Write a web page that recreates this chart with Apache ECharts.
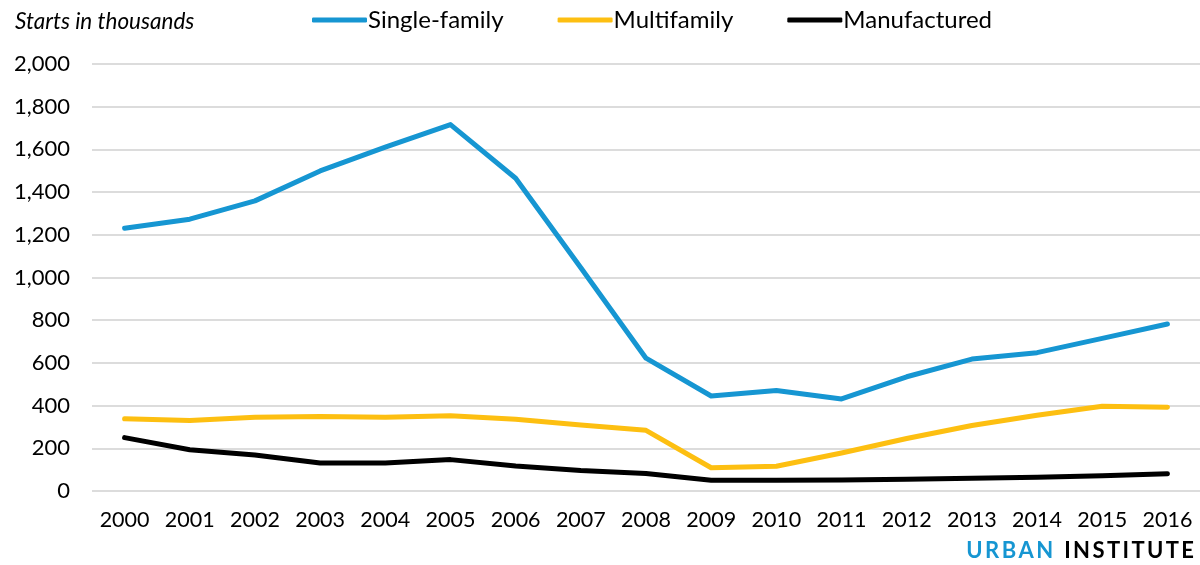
<!DOCTYPE html>
<html><head><meta charset="utf-8">
<script src="https://cdn.jsdelivr.net/npm/echarts@6/dist/echarts.min.js"></script>
<style>html,body{margin:0;padding:0;background:#fff}#c{width:1200px;height:565px}</style>
</head><body><div id="c"></div>
<script>
const years = ['2000','2001','2002','2003','2004','2005','2006','2007','2008','2009','2010','2011','2012','2013','2014','2015','2016'];
const singleFamily = [1231,1273,1359,1499,1611,1716,1465,1046,622,445,471,431,535,618,648,715,782];
const multifamily = [338,330,346,349,345,352,336,309,284,109,116,178,246,307,355,397,392];
const manufactured = [250,193,169,131,131,147,117,96,82,50,50,52,55,60,64,71,81];
const yTicks = [0,200,400,600,800,1000,1200,1400,1600,1800,2000];

const chart = echarts.init(document.getElementById('c'), null, {renderer:'canvas'});
const font = 'Lato, "Noto Sans", sans-serif';
function mk(name, data, color){
  return {name, type:'line', data, symbol:'none', smooth:false,
    lineStyle:{width:5, color, cap:'round', join:'round'}, itemStyle:{color}};
}
// spaced logo letters
const ctx = document.createElement('canvas').getContext('2d');
const logoFont = 'bold 22px ' + font;
ctx.font = logoFont;
const words = [{t:'URBAN', c:'#1696d2'}, {t:'INSTITUTE', c:'#000'}];
const spacing = 2.4, wordGap = 11, rightEdge = 1194;
let total = 0;
words.forEach((w,wi)=>{ for(const ch of w.t){ total += ctx.measureText(ch).width + spacing; } total -= spacing; if(wi<words.length-1) total += wordGap; });
let x = rightEdge - total;
const logo = [];
words.forEach((w,wi)=>{
  for(const ch of w.t){
    logo.push({type:'text', x:x, y:540, style:{text:ch, font:logoFont, fill:w.c}});
    x += ctx.measureText(ch).width + spacing;
  }
  x += wordGap - spacing;
});

chart.setOption({
  animation:false,
  textStyle:{fontFamily:font},
  grid:{left:92, right:-4, top:64, bottom:74, containLabel:false},
  legend:{top:3, left:307, icon:'roundRect', itemWidth:55, itemHeight:5, itemGap:54,
    textStyle:{fontSize:24, color:'#000', fontFamily:font, padding:[0,0,0,-4]},
    data:['Single-family','Multifamily','Manufactured']},
  xAxis:{type:'category', data:years, boundaryGap:true,
    axisLine:{show:false}, axisTick:{show:false},
    axisLabel:{interval:0, fontSize:21.5, color:'#000', margin:18, fontFamily:font}},
  yAxis:{type:'value', min:yTicks[0], max:yTicks[yTicks.length-1], interval:200,
    axisLine:{show:false}, axisTick:{show:false},
    splitLine:{lineStyle:{color:'#dcdcdc', width:2}},
    axisLabel:{fontSize:22, color:'#000', margin:22, fontFamily:font,
      formatter:v=>v.toLocaleString('en-US')}},
  graphic:[
    {type:'text', left:15, top:10, style:{text:'Starts in thousands', font:'italic 22.5px '+font, fill:'#000'}}
  ].concat(logo),
  series:[
    mk('Single-family', singleFamily, '#1696d2'),
    mk('Multifamily', multifamily, '#fdbf11'),
    mk('Manufactured', manufactured, '#000000')
  ]
});
</script></body></html>
